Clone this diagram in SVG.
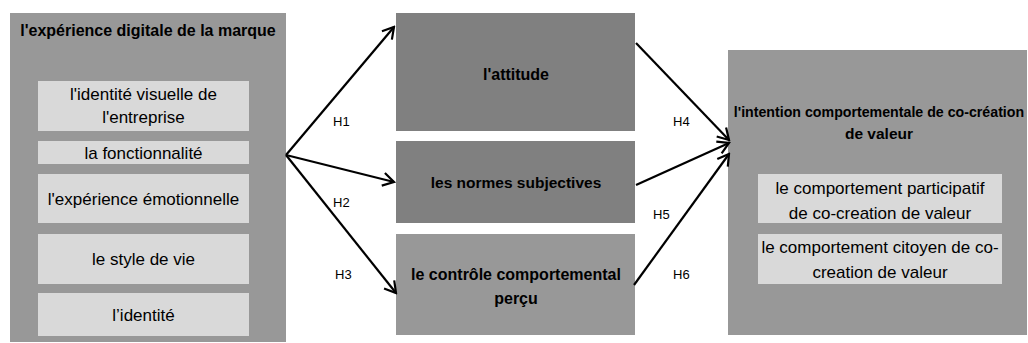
<svg xmlns="http://www.w3.org/2000/svg" width="1028" height="343" viewBox="0 0 1028 343">
<style>
text{font-family:"Liberation Sans",Arial,sans-serif;fill:#000;text-anchor:middle}
.t{font-size:15.5px;font-weight:bold}
.n{font-size:17px}
.h{font-size:13px;text-anchor:start}
.lt{fill:#d9d9d9}
.md{fill:#989898}
.dk{fill:#808080}
.edge{stroke:#000;stroke-width:2.2;fill:none;marker-end:url(#ah)}
</style>
<defs>
<marker id="ah" markerUnits="userSpaceOnUse" markerWidth="16" markerHeight="16" refX="0" refY="0" viewBox="-14 -8 16 16" orient="auto">
<path d="M-11,-6.5 L0,0 L-11,6.5" fill="none" stroke="#000" stroke-width="2.2"/>
</marker>
</defs>
<g id="node-experience">
<rect class="md" x="10" y="13" width="276" height="329"/>
<text class="t" x="148" y="36" style="font-size:16px">l'expérience digitale de la marque</text>
<rect class="lt" x="38" y="81" width="211" height="50"/>
<text class="n" x="143.5" y="100">l'identité visuelle de</text>
<text class="n" x="143.5" y="123">l'entreprise</text>
<rect class="lt" x="38" y="141" width="211" height="23"/>
<text class="n" x="143.5" y="159">la fonctionnalité</text>
<rect class="lt" x="38" y="174" width="211" height="49"/>
<text class="n" x="143.5" y="205">l'expérience émotionnelle</text>
<rect class="lt" x="38" y="234" width="211" height="50"/>
<text class="n" x="143.5" y="265">le style de vie</text>
<rect class="lt" x="38" y="293" width="211" height="43"/>
<text class="n" x="143.5" y="321">l’identité</text>
</g>
<g id="node-attitude">
<rect class="dk" x="396" y="13" width="239" height="118"/>
<text class="t" x="516" y="80" style="font-size:16px">l'attitude</text>
</g>
<g id="node-normes">
<rect class="dk" x="396" y="141" width="239" height="82"/>
<text class="t" x="516" y="188">les normes subjectives</text>
</g>
<g id="node-controle">
<rect class="md" x="396" y="234" width="239" height="101"/>
<text class="t" x="516" y="280" style="font-size:16px">le contrôle comportemental</text>
<text class="t" x="516" y="304" style="font-size:16px">perçu</text>
</g>
<g id="node-intention">
<rect class="md" x="728" y="50" width="299" height="285"/>
<text class="t" x="879" y="117" style="font-size:14.2px">l'intention comportementale de co-création</text>
<text class="t" x="879" y="139">de valeur</text>
<rect class="lt" x="758" y="174" width="244" height="49"/>
<text class="n" x="880" y="194">le comportement participatif</text>
<text class="n" x="880" y="219">de co-creation de valeur</text>
<rect class="lt" x="758" y="234" width="244" height="50"/>
<text class="n" x="880" y="253">le comportement citoyen de co-</text>
<text class="n" x="880" y="278">creation de valeur</text>
</g>
<g id="connectors">
<line class="edge" x1="286" y1="155" x2="394" y2="27"/>
<line class="edge" x1="286" y1="155" x2="394" y2="182"/>
<line class="edge" x1="286" y1="155" x2="396" y2="293"/>
<line class="edge" x1="636" y1="43" x2="729" y2="140"/>
<line class="edge" x1="636" y1="185" x2="729" y2="143"/>
<line class="edge" x1="634" y1="285" x2="729" y2="154"/>
<text class="h" x="333" y="126">H1</text>
<text class="h" x="333" y="207">H2</text>
<text class="h" x="335" y="279">H3</text>
<text class="h" x="673" y="126">H4</text>
<text class="h" x="653" y="219">H5</text>
<text class="h" x="673" y="279">H6</text>
</g>
</svg>
